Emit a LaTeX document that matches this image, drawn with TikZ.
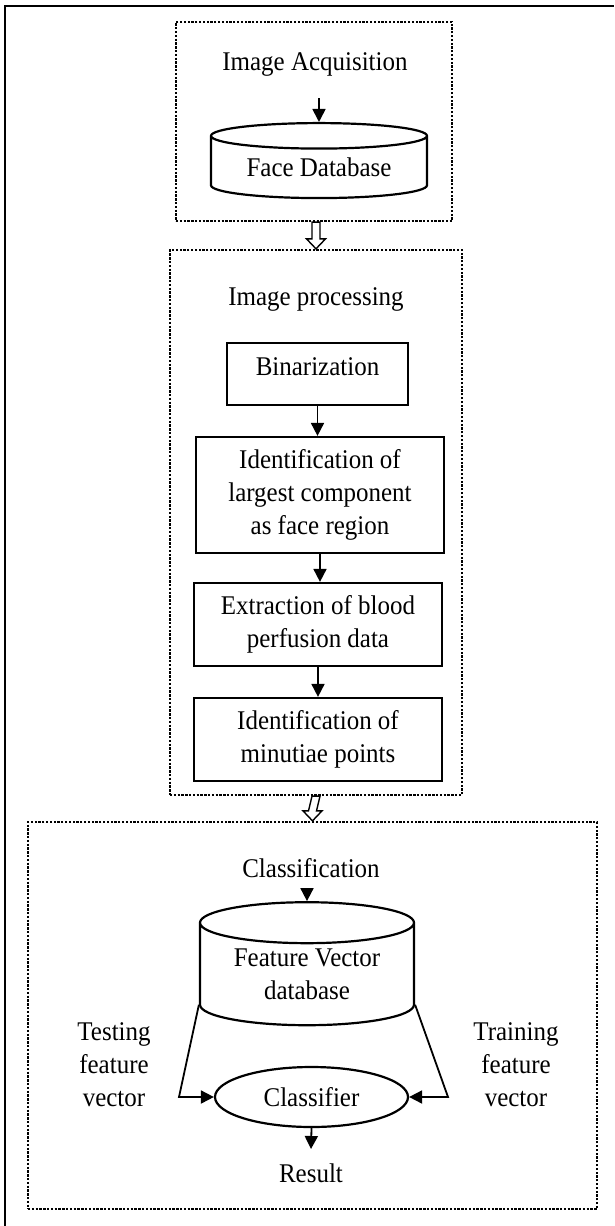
\documentclass[tikz,border=0pt]{standalone}
\usepackage{fontspec}
\setmainfont[FakeStretch=0.925]{Liberation Serif}
\usetikzlibrary{arrows.meta,shapes.geometric,calc}
\begin{document}
\begin{tikzpicture}[x=1pt,y=-1pt,
    every node/.style={font=\fontsize{27}{33}\selectfont,inner sep=0pt,align=center},
    group/.style={draw,line width=2.3pt,dash pattern=on 2.3pt off 1.5pt},
    stepbox/.style={draw,line width=2.2pt},
    db/.style={draw,line width=2.2pt,cylinder,shape border rotate=90},
    arr/.style={line width=1.8pt,-{Triangle[length=13pt,width=13pt]}},
    hollow/.style={line width=1.4pt,line join=miter}]
  \useasboundingbox (0,0) rectangle (614,1226);
  \draw[line width=2.6pt] (5,1226) -- (5,6) -- (614,6);
  % groups
  \node[group,minimum width=276,minimum height=199] (acq) at (314,121.5) {};
  \node[group,minimum width=292,minimum height=545] (proc) at (316,522.5) {};
  \node[group,minimum width=569,minimum height=387] (cls) at (312.5,1015.5) {};
  % image acquisition
  \node (acqtitle) at (315,64) {Image Acquisition};
  \coordinate (acqin) at (319,98);
  \node[db,minimum width=216,minimum height=75,aspect=0.176] (facedb) at (319,167.5) {Face Database};
  \draw[arr] (acqin) -- (facedb.north);
  % image processing
  \node (proctitle) at (316,299) {Image processing};
  \node[stepbox,minimum width=181,minimum height=62,text height=18pt,text depth=16pt] (binar) at (317.5,374) {Binarization};
  \node[stepbox,minimum width=248,minimum height=116] (largest) at (320,495) {Identification of\\largest component\\as face region};
  \node[stepbox,minimum width=248,minimum height=83] (perfusion) at (318,624.5) {Extraction of blood\\perfusion data};
  \node[stepbox,minimum width=248,minimum height=83] (minutiae) at (318,739.5) {Identification of\\minutiae points};
  \draw[arr] (binar.south) -- (binar.south |- largest.north);
  \draw[arr] (largest.south) -- (largest.south |- perfusion.north);
  \draw[arr] (perfusion.south) -- (perfusion.south |- minutiae.north);
  % classification
  \node (clstitle) at (311,868) {Classification};
  \coordinate (clsin) at (307,890);
  \node[db,minimum width=214,minimum height=123,aspect=0.28] (fvdb) at (307,974.5) {Feature Vector\\database};
  \draw[arr] (clsin) -- (fvdb.north);
  \node[ellipse,draw,line width=2.2pt,minimum width=193,minimum height=60] (clf) at (311.5,1097) {Classifier};
  \node (testing) at (114,1065) {Testing\\feature\\vector};
  \node (training) at (516,1065) {Training\\feature\\vector};
  \coordinate (tl) at (179,1097);
  \coordinate (tr) at (448,1097);
  \draw[arr] (fvdb.after bottom) -- (tl) -- (clf.west);
  \draw[arr] (fvdb.before bottom) -- (tr) -- (clf.east);
  \node (result) at (311,1173) {Result};
  \coordinate (resin) at (311,1149);
  \draw[arr] (clf.south) -- (resin);
  % hollow arrows between groups
  \coordinate (h1) at (proc.north |- acq.south);
  \coordinate (h2) at (proc.south);
  \draw[hollow] ($(h1)+(-4,0)$) -- ($(proc.north)+(-4,-10)$) -- ($(proc.north)+(-9.5,-10)$) -- (proc.north)
    -- ($(proc.north)+(9.5,-10)$) -- ($(proc.north)+(4,-10)$) -- ($(h1)+(4,0)$) -- cycle;
  \draw[hollow] ($(h2)+(-4,0)$) -- ($(cls.north)+(-4,-10)$) -- ($(cls.north)+(-9.5,-10)$) -- (cls.north)
    -- ($(cls.north)+(9.5,-10)$) -- ($(cls.north)+(4,-10)$) -- ($(h2)+(4,0)$) -- cycle;
\end{tikzpicture}
\end{document}
